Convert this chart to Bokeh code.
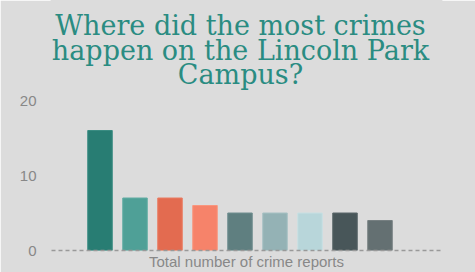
from bokeh.plotting import figure
from bokeh.models import Range1d, ColumnDataSource, Label, FixedTicker
from bokeh.embed import file_html
from bokeh.resources import INLINE

# Data
positions = [0, 1, 2, 3, 4, 5, 6, 7, 8]
counts = [16, 7, 7, 6, 5, 5, 5, 5, 4]
colors = ["#287d73", "#4fa097", "#e36b50", "#f6836a", "#5f7f80",
          "#94b2b5", "#b8d6da", "#485659", "#647072"]
edge_colors = ["#3a8c82", "#62ada4", "#ea7d63", "#f9967e", "#718f90",
               "#a6c1c4", "#c8e0e3", "#5a676a", "#767f81"]
y_ticks = [0, 10, 20]
title_lines = ["Where did the most crimes", "happen on the Lincoln Park", "Campus?"]
x_label = "Total number of crime reports"

BG = "#dcdcdc"

# frame spans the full height above the baseline; the title sits inside it
p = figure(width=475, height=272, output_backend="svg", toolbar_location=None,
           x_range=Range1d(-1.386, 9.757), y_range=Range1d(0, 250 / 7.5),
           min_border_left=51, min_border_right=34, min_border_top=0,
           min_border_bottom=22)
p.background_fill_color = BG
p.border_fill_color = BG
p.outline_line_color = BG
p.outline_line_width = 2
p.grid.visible = False

src = ColumnDataSource(dict(x=positions, top=counts, color=colors, edge=edge_colors))
p.vbar(x="x", top="top", bottom=0, width=0.7, fill_color="color",
       line_color="edge", line_width=1, source=src)

# y axis
p.yaxis.ticker = FixedTicker(ticks=y_ticks)
p.yaxis.axis_line_color = None
p.yaxis.major_tick_line_color = None
p.yaxis.minor_tick_line_color = None
p.yaxis.major_label_text_color = "#888888"
p.yaxis.major_label_text_font = "Liberation Sans"
p.yaxis.major_label_text_font_size = "15px"
p.yaxis.major_label_standoff = 9

# x axis: dashed baseline + label
p.xaxis.ticker = FixedTicker(ticks=[])
p.xaxis.axis_line_color = "#999999"
p.xaxis.axis_line_dash = "4 3"
p.xaxis.axis_line_width = 1.5
p.xaxis.major_tick_line_color = None
p.xaxis.minor_tick_line_color = None
p.xaxis.major_label_text_font_size = "0px"
p.xaxis.axis_label = x_label
p.xaxis.axis_label_text_color = "#888888"
p.xaxis.axis_label_text_font = "Liberation Sans"
p.xaxis.axis_label_text_font_size = "15px"
p.xaxis.axis_label_text_font_style = "normal"
p.xaxis.axis_label_standoff = 2

# title lines (screen offsets are measured from the frame's lower-left corner)
baselines_from_frame_bottom = [225, 200, 176]
for line, yb in zip(title_lines, baselines_from_frame_bottom):
    p.add_layout(Label(x=189, y=yb, x_units="screen", y_units="screen", text=line,
                       text_align="center", text_baseline="alphabetic",
                       text_color="#2a8c82", text_font="DejaVu Serif",
                       text_font_size="27px"))

open("out.html", "w").write(file_html(p, INLINE))
